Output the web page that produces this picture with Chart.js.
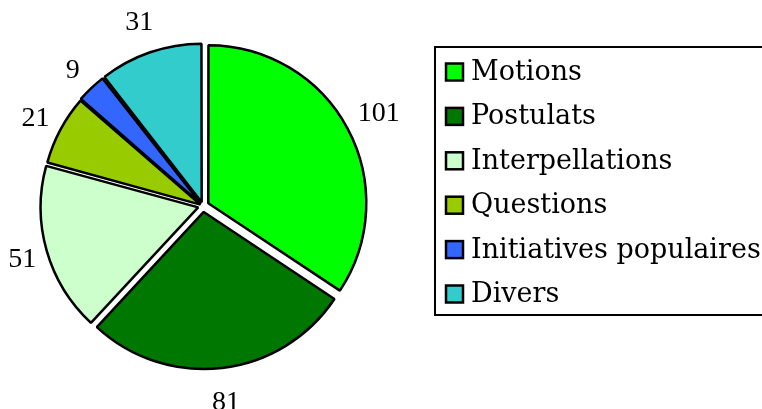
<!DOCTYPE html>
<html>
<head>
<meta charset="utf-8">
<script src="https://cdn.jsdelivr.net/npm/chart.js@4"></script>
<style>
html,body{margin:0;padding:0;background:#fff;}
#wrap{position:relative;width:762px;height:409px;overflow:hidden;}
canvas{display:block;}
</style>
</head>
<body>
<div id="wrap"><canvas id="c" width="762" height="409"></canvas></div>
<script>
const categories = ['Motions', 'Postulats', 'Interpellations', 'Questions', 'Initiatives populaires', 'Divers'];
const values = [101, 81, 51, 21, 9, 31];
const colors = ['#00FF00', '#007700', '#CCFFCC', '#99CC00', '#3366FF', '#33CCCC'];
const explode = [6, 6, 5, 3, 3, 4];

const labelFont = '28px "Liberation Serif"';
const legendFont = '27px "DejaVu Serif"';

const outsideLabels = {
  id: 'outsideLabels',
  afterDatasetsDraw(chart) {
    const ctx = chart.ctx;
    const meta = chart.getDatasetMeta(0);
    ctx.save();
    ctx.font = labelFont;
    ctx.fillStyle = '#000';
    ctx.textAlign = 'center';
    ctx.textBaseline = 'middle';
    meta.data.forEach((arc, i) => {
      const p = arc.getProps(['x', 'y', 'startAngle', 'endAngle', 'outerRadius'], true);
      const mid = (p.startAngle + p.endAngle) / 2;
      const d = (arc.options.offset || 0) / 4;
      const txt = String(chart.data.datasets[0].data[i]);
      const w = ctx.measureText(txt).width;
      const h = 54;
      const c = Math.cos(mid), s = Math.sin(mid);
      const r = p.outerRadius + d + 5 + Math.abs(c) * w / 2 + Math.abs(s) * h / 2;
      ctx.fillText(txt, p.x + c * r, p.y + s * r + 2);
    });
    ctx.restore();
  }
};

const boxLegend = {
  id: 'boxLegend',
  afterDraw(chart) {
    const ctx = chart.ctx;
    const ds = chart.data.datasets[0];
    ctx.save();
    ctx.lineWidth = 2;
    ctx.strokeStyle = '#000';
    ctx.strokeRect(435, 47, 400, 268);
    ctx.font = legendFont;
    ctx.textBaseline = 'middle';
    ctx.textAlign = 'left';
    chart.data.labels.forEach((lab, i) => {
      const cy = 72 + i * 44.4;
      ctx.fillStyle = ds.backgroundColor[i];
      ctx.fillRect(446, cy - 8.5, 17, 17);
      ctx.lineWidth = 2.5;
      ctx.strokeRect(446, cy - 8.5, 17, 17);
      ctx.fillStyle = '#000';
      ctx.fillText(lab, 471, cy + 1);
    });
    ctx.restore();
  }
};

new Chart(document.getElementById('c'), {
  type: 'pie',
  data: {
    labels: categories,
    datasets: [{
      data: values,
      backgroundColor: colors,
      borderColor: '#000',
      borderWidth: 2.5,
      offset: explode.map(v => v * 4),
      radius: 157
    }]
  },
  options: {
    responsive: false,
    animation: false,
    events: [],
    layout: { padding: { left: 0, right: 356, top: 3, bottom: 0 } },
    plugins: { legend: { display: false }, tooltip: { enabled: false } }
  },
  plugins: [outsideLabels, boxLegend]
});
</script>
</body>
</html>
